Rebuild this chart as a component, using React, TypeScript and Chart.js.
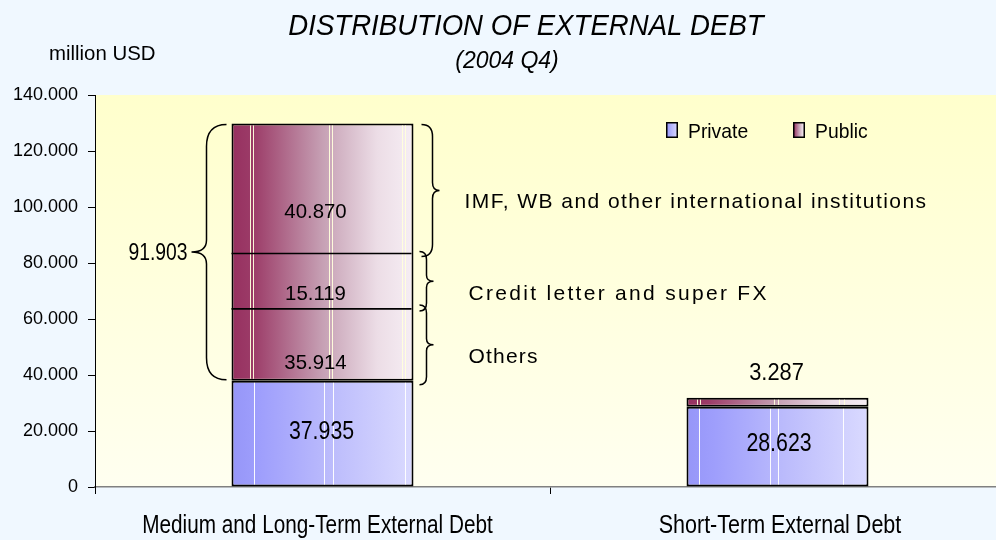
import React, { useEffect, useRef } from "react";
import { Chart, registerables } from "chart.js";

Chart.register(...registerables);

// ---------- data ----------
const CATEGORIES = ["Medium and Long-Term External Debt", "Short-Term External Debt"];
const PRIVATE = [37.935, 28.623];
const PUBLIC = [91.903, 3.287];
const PRIVATE_LABELS = ["37.935", "28.623"];
const PUBLIC_TOTAL_LABEL = "91.903";
const SHORT_PUBLIC_LABEL = "3.287";
// public medium/long-term components (as drawn on the bar)
const COMPONENT_NAMES = ["Others", "Credit letter and super FX", "IMF, WB and other international institutions"];
const COMPONENT_LABELS = ["35.914", "15.119", "40.870"];
const COMPONENT_BOUNDS = [37.935, 63.6, 83.4, 129.838]; // drawn segment edges
const COMPONENT_LABEL_Y = [44.9, 69.4, 98.7];
const COMPONENT_NAME_Y = [47.1, 69.6, 102.5];
const Y_TICKS_MAX = 140;
const Y_STEP = 20;
const TITLE = "DISTRIBUTION OF EXTERNAL DEBT";
const SUBTITLE = "(2004 Q4)";
const UNIT = "million USD";

const FONT = '"Liberation Sans", Arial, Helvetica, sans-serif';
const PUBLIC_STOPS: [number, string][] = [
  [0, "#963060"],
  [0.12, "#9c3c68"],
  [0.5, "#c6a0b4"],
  [0.8, "#ecdde6"],
  [1, "#f6eef4"],
];
const PRIVATE_STOPS: [number, string][] = [
  [0, "#9696f8"],
  [0.15, "#9e9efc"],
  [0.55, "#bcbcfc"],
  [1, "#dadaff"],
];
const SHEEN = [
  [[0.125, 0.51, 0.56, 0.955], [0.104, 0.12, 0.537, 0.553, 0.938, 0.956]],
  [[0.07, 0.46, 0.505, 0.86], [0.055, 0.072, 0.483, 0.505, 0.84, 0.868]],
];

function grad(ctx: CanvasRenderingContext2D, x0: number, x1: number, stops: [number, string][]) {
  const g = ctx.createLinearGradient(x0, 0, x1, 0);
  stops.forEach(([o, c]) => g.addColorStop(o, c));
  return g;
}

function barFill(stops: [number, string][]) {
  return (c: any) => {
    const chart = c.chart;
    const xs = chart.scales?.x;
    if (!xs || c.dataIndex === undefined || !chart.chartArea) return stops[0][1];
    const cx = xs.getPixelForValue(c.dataIndex);
    const half = (xs.width / chart.data.labels.length) * 0.2;
    return grad(chart.ctx, cx - half, cx + half, stops);
  };
}

function txt(
  ctx: CanvasRenderingContext2D,
  s: string,
  x: number,
  y: number,
  size: number,
  sx = 1,
  align: CanvasTextAlign = "center",
  italic = false,
  spacing = 0
) {
  ctx.save();
  ctx.font = `${italic ? "italic " : ""}${size}px ${FONT}`;
  ctx.fillStyle = "#000";
  ctx.textAlign = align;
  ctx.textBaseline = "alphabetic";
  (ctx as any).letterSpacing = spacing + "px";
  ctx.translate(x, y);
  ctx.scale(sx, 1);
  ctx.fillText(s, 0, 0);
  ctx.restore();
}
// text vertically centred on cap height
function txtC(ctx: CanvasRenderingContext2D, s: string, x: number, yc: number, size: number, sx = 1, align: CanvasTextAlign = "center", italic = false, spacing = 0) {
  txt(ctx, s, x, yc + size * 0.358, size, sx, align, italic, spacing);
}

function brace(ctx: CanvasRenderingContext2D, xStart: number, xVert: number, xTip: number, yTop: number, yBot: number, r: number, rt: number) {
  const ym = (yTop + yBot) / 2;
  ctx.beginPath();
  ctx.moveTo(xStart, yTop);
  ctx.quadraticCurveTo(xVert, yTop, xVert, yTop + r);
  ctx.lineTo(xVert, ym - rt);
  ctx.quadraticCurveTo(xVert, ym, xTip, ym);
  ctx.quadraticCurveTo(xVert, ym, xVert, ym + rt);
  ctx.lineTo(xVert, yBot - r);
  ctx.quadraticCurveTo(xVert, yBot, xStart, yBot);
  ctx.stroke();
}

const decor = {
  id: "decor",
  beforeDraw(chart: any) {
    const { ctx, chartArea: a } = chart;
    ctx.save();
    ctx.fillStyle = "#f0f8ff";
    ctx.fillRect(0, 0, chart.width, chart.height);
    const g = ctx.createLinearGradient(0, a.top, 0, a.bottom);
    g.addColorStop(0, "#ffffcc");
    g.addColorStop(1, "#fffff0");
    ctx.fillStyle = g;
    ctx.fillRect(a.left, a.top, a.right - a.left, a.bottom - a.top);
    ctx.restore();
  },
  afterDatasetsDraw(chart: any) {
    const { ctx } = chart;
    const ys = chart.scales.y;
    const xs = chart.scales.x;
    // sheen lines inside bars
    chart.data.datasets.forEach((_: any, di: number) => {
      const meta = chart.getDatasetMeta(di);
      meta.data.forEach((el: any, i: number) => {
        const p = el.getProps(["x", "y", "base", "width"], true);
        const left = p.x - p.width / 2;
        ctx.save();
        ctx.strokeStyle = di === 0 ? "rgba(255,255,255,0.95)" : "rgba(255,255,220,0.95)";
        ctx.lineWidth = 1;
        SHEEN[i][di].forEach((f: number) => {
          const lx = Math.round(left + f * p.width) + 0.5;
          ctx.beginPath();
          ctx.moveTo(lx, Math.min(p.y, p.base) + 2);
          ctx.lineTo(lx, Math.max(p.y, p.base) - 2);
          ctx.stroke();
        });
        ctx.restore();
      });
    });

    const m0 = chart.getDatasetMeta(1).data[0].getProps(["x", "width"], true);
    const bx = m0.x;
    const bl = bx - m0.width / 2;
    const br = bx + m0.width / 2;
    // divider lines in the public bar
    ctx.save();
    ctx.strokeStyle = "#000";
    ctx.lineWidth = 1.6;
    [COMPONENT_BOUNDS[1], COMPONENT_BOUNDS[2]].forEach((v) => {
      const py = ys.getPixelForValue(v);
      ctx.beginPath();
      ctx.moveTo(bl, py);
      ctx.lineTo(br - 2, py);
      ctx.stroke();
    });
    ctx.restore();

    // component labels
    COMPONENT_LABELS.forEach((s, k) => {
      txtC(ctx, s, bx - 7, ys.getPixelForValue(COMPONENT_LABEL_Y[k]), 21, 0.97);
    });
    // private labels
    chart.getDatasetMeta(0).data.forEach((el: any, i: number) => {
      const p = el.getProps(["x"], true);
      const vy = i === 0 ? 20.5 : 16.2;
      txtC(ctx, PRIVATE_LABELS[i], p.x + (i === 0 ? -1 : 1.5), ys.getPixelForValue(vy), 26, 0.82);
    });
    // short-term public label above bar
    const m1 = chart.getDatasetMeta(1).data[1].getProps(["x"], true);
    txtC(ctx, SHORT_PUBLIC_LABEL, m1.x - 1, ys.getPixelForValue(41.2), 23, 0.95);

    // braces
    ctx.save();
    ctx.strokeStyle = "#000";
    ctx.lineWidth = 1.5;
    const top = ys.getPixelForValue(COMPONENT_BOUNDS[3]);
    const bot = ys.getPixelForValue(COMPONENT_BOUNDS[0]);
    brace(ctx, bl - 5, bl - 25, bl - 40, top + 1, bot - 1, 22, 12);
    brace(ctx, br + 8, br + 19, br + 26, top + 1, ys.getPixelForValue(COMPONENT_BOUNDS[2]) + 3, 12, 8);
    brace(ctx, br + 6, br + 13, br + 20, ys.getPixelForValue(COMPONENT_BOUNDS[2]) - 2, ys.getPixelForValue(COMPONENT_BOUNDS[1]) + 2, 8, 6);
    brace(ctx, br + 6, br + 13, br + 20, ys.getPixelForValue(COMPONENT_BOUNDS[1]) - 4, bot + 4, 8, 6);
    ctx.restore();

    txtC(ctx, PUBLIC_TOTAL_LABEL, bl - 44, (top + bot) / 2, 23, 0.84, "right");
    txtC(ctx, COMPONENT_NAMES[2], br + 51, ys.getPixelForValue(COMPONENT_NAME_Y[2]), 21, 1, "left", false, 1.45);
    txtC(ctx, COMPONENT_NAMES[1], br + 55, ys.getPixelForValue(COMPONENT_NAME_Y[1]), 21, 1, "left", false, 2.3);
    txtC(ctx, COMPONENT_NAMES[0], br + 55, ys.getPixelForValue(COMPONENT_NAME_Y[0]), 21, 1, "left", false, 1.2);

    // category labels
    chart.data.labels.forEach((lab: string, i: number) => {
      const cx = xs.getPixelForValue(i);
      txt(ctx, lab, cx + (i === 0 ? -5 : 2.5), 533, 25, i === 0 ? 0.83 : 0.86);
    });

    // titles
    txt(ctx, TITLE, 526, 35, 30, 0.92, "center", true);
    txt(ctx, SUBTITLE, 507, 68, 23, 1, "center", true);
    txt(ctx, UNIT, 49, 60, 20, 1.02, "left");

    // legend
    const legend = [
      { name: "Private", stops: PRIVATE_STOPS, x: 666 },
      { name: "Public", stops: PUBLIC_STOPS, x: 793 },
    ];
    legend.forEach((it) => {
      ctx.save();
      ctx.fillStyle = grad(ctx, it.x, it.x + 12, it.stops);
      ctx.fillRect(it.x, 122, 12, 16);
      ctx.strokeStyle = "#000";
      ctx.lineWidth = 1.5;
      ctx.strokeRect(it.x + 0.75, 122.75, 10.5, 14.5);
      ctx.restore();
      txtC(ctx, it.name, it.x + 22, 130, 21, 0.92, "left");
    });
  },
};

export default function App() {
  const ref = useRef<HTMLCanvasElement>(null);
  useEffect(() => {
    const canvas = ref.current!;
    const chart = new Chart(canvas, {
      type: "bar",
      data: {
        labels: CATEGORIES,
        datasets: [
          {
            label: "Private",
            data: PRIVATE,
            backgroundColor: barFill(PRIVATE_STOPS),
            borderColor: "#000",
            borderWidth: 2,
            borderSkipped: false,
            barPercentage: 0.4,
            categoryPercentage: 1,
          },
          {
            label: "Public",
            data: PUBLIC,
            backgroundColor: barFill(PUBLIC_STOPS),
            borderColor: "#000",
            borderWidth: 2,
            borderSkipped: false,
            barPercentage: 0.4,
            categoryPercentage: 1,
          },
        ],
      },
      options: {
        responsive: false,
        animation: false,
        devicePixelRatio: 1,
        layout: { padding: { top: 95, right: 5, left: 0, bottom: 0 } },
        plugins: { legend: { display: false }, title: { display: false }, tooltip: { enabled: false } },
        scales: {
          x: {
            stacked: true,
            offset: true,
            grid: { display: true, drawOnChartArea: false, drawTicks: true, tickLength: 7, color: "#000", offset: true },
            border: { color: "#808080", width: 1.5 },
            ticks: { display: false },
            afterFit: (s: any) => {
              s.height = 53;
            },
          },
          y: {
            stacked: true,
            min: 0,
            max: Y_TICKS_MAX,
            grid: { drawOnChartArea: false, drawTicks: true, tickLength: 7, color: "#000" },
            border: { color: "#000", width: 1 },
            ticks: {
              stepSize: Y_STEP,
              padding: 10,
              color: "#000",
              font: { family: FONT, size: 18 },
              callback: (v: any) => (Number(v) === 0 ? "0" : `${v}.000`),
            },
            afterFit: (s: any) => {
              s.width = 95;
            },
          },
        },
      },
      plugins: [decor],
    });
    return () => chart.destroy();
  }, []);
  return (
    <div style={{ position: "fixed", left: 0, top: 0, width: 996, height: 540, overflow: "hidden", background: "#f0f8ff" }}>
      <canvas ref={ref} width={1010} height={540} style={{ display: "block", width: 1010, height: 540 }} />
    </div>
  );
}
